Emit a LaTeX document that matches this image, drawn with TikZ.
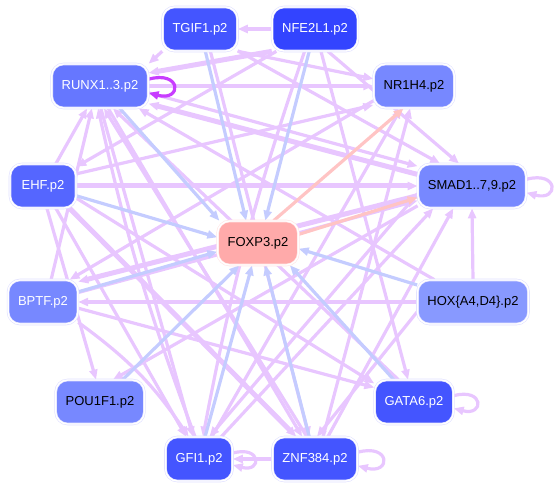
\documentclass[tikz,border=0pt]{standalone}
\usepackage{fontspec}
\setmainfont{Liberation Sans}
\usetikzlibrary{arrows.meta,backgrounds}

\definecolor{regpurple}{RGB}{232,198,255}
\definecolor{regblue}{RGB}{196,204,255}
\definecolor{regpink}{RGB}{255,196,196}
\definecolor{loopmag}{RGB}{200,60,255}
\definecolor{geneA}{RGB}{51,68,255}
\definecolor{geneB}{RGB}{68,85,255}
\definecolor{geneC}{RGB}{85,102,255}
\definecolor{geneD}{RGB}{102,119,255}
\definecolor{geneE}{RGB}{119,136,255}
\definecolor{geneF}{RGB}{136,153,255}
\definecolor{foxfill}{RGB}{255,170,170}

\tikzset{
  gene/.style={rectangle, rounded corners=12pt, minimum height=44pt, minimum width=66pt,
    inner xsep=10pt, draw=blue!12, double=white, double distance=1.4pt, line width=0.6pt,
    font=\fontsize{13}{15}\selectfont, text=white},
  darktext/.style={text=black},
  reg/.style={draw=regpurple, line width=3.2pt, -{Triangle[length=10pt,width=8pt]}},
  regthick/.style={reg, line width=5pt},
  tofox/.style={reg, draw=regblue},
  fromfox/.style={reg, draw=regpink},
  selfloop/.style={reg, looseness=6.5},
}

\begin{document}
\begin{tikzpicture}[x=1pt, y=-1pt]
    \useasboundingbox (0,0) rectangle (557,489);

    % Genes
    \node[gene, fill=geneB] (tgif) at (200,29) {TGIF1.p2};
    \node[gene, fill=geneA] (nfe) at (315,29) {NFE2L1.p2};
    \node[gene, fill=geneD] (runx) at (100,86) {RUNX1..3.p2};
    \node[gene, fill=geneE, darktext] (nr) at (414,86) {NR1H4.p2};
    \node[gene, fill=geneC] (ehf) at (43,186) {EHF.p2};
    \node[gene, fill=geneE, darktext] (smad) at (472,186) {SMAD1..7,9.p2};
    \node[gene, fill=foxfill, darktext, draw=red!10] (foxp) at (258,243) {FOXP3.p2};
    \node[gene, fill=geneE] (bptf) at (43,302) {BPTF.p2};
    \node[gene, fill=geneF, darktext] (hox) at (473,302) {HOX\{A4,D4\}.p2};
    \node[gene, fill=geneE, darktext] (pou) at (100,402) {POU1F1.p2};
    \node[gene, fill=geneB] (gata) at (414,402) {GATA6.p2};
    \node[gene, fill=geneB] (gfi) at (199,459) {GFI1.p2};
    \node[gene, fill=geneB] (znf) at (315,459) {ZNF384.p2};

    \begin{scope}[on background layer]
    % Regulation among the top genes
    \draw[reg] (nfe) -- (tgif);
    \draw[reg] (tgif.south west) -- (runx.north east);
    \draw[regthick] (nfe.south west) -- (runx.15);
    \draw[reg] (runx.east) -- (nr.west);
    \draw[reg] (tgif.south east) -- (nr.170);
    \draw[reg] (nfe.-60) -- (smad.120);
    \draw[reg] (tgif.-30) -- (smad.145);
    \draw[reg] (nfe.-150) -- (ehf.30);

    % Towards RUNX1..3
    \draw[reg] (ehf.60) -- (runx.-120);
    \draw[reg] (bptf.70) -- (runx.-110);
    \draw[reg] (gfi.100) to[bend left=4] (runx.-95);
    \draw[reg] (znf.110) -- (runx.-80);
    \draw[reg] (gata.125) -- (runx.-60);
    \draw[reg] (hox.150) -- (runx.-30);
    \draw[regthick] (smad.168) -- (runx.-20);
    \draw[reg] (runx.-8) -- (smad.160);

    % Left side genes
    \draw[regthick] (ehf.east) -- (smad.west);
    \draw[reg] (ehf.20) -- (nr.-155);
    \draw[reg] (nr.-160) -- (bptf.40);
    \draw[regthick] (smad.-170) -- (bptf.30);
    \draw[reg] (bptf.15) -- (smad.-165);
    \draw[reg] (ehf.-80) -- (pou.100);
    \draw[reg] (smad.-160) -- (pou.60);
    \draw[reg] (hox.west) -- (bptf.east);

    % Towards GFI1 and ZNF384
    \draw[reg] (ehf.-60) -- (gfi.120);
    \draw[regthick] (ehf.-40) -- (znf.130);
    \draw[reg] (ehf.-20) -- (gata.155);
    \draw[reg] (bptf.-30) to[bend left=10] (gfi.115);
    \draw[reg] (bptf.-10) -- (gata.160);
    \draw[reg] (runx.-88) -- (gfi.105);
    \draw[reg] (runx.-70) -- (znf.120);
    \draw[reg] (nfe.-115) to[bend right=4] (gfi.80);
    \draw[reg] (tgif.-65) -- (znf.105);
    \draw[reg] (nfe.-75) -- (gata.105);
    \draw[reg] (smad.-172) -- (gfi.65);
    \draw[reg] (hox.-170) -- (znf.85);
    \draw[reg] (znf.west) -- (gfi.east);

    % From GFI1 and ZNF384 upwards
    \draw[reg] (gfi.60) -- (nr.-120);
    \draw[reg] (znf.70) -- (nr.-100);
    \draw[reg] (gfi.45) -- (smad.-150);
    \draw[reg] (znf.60) -- (smad.-130);
    \draw[reg] (hox.north) -- (smad.south);

    % Regulators of FOXP3
    \foreach \g/\a in {tgif/118, nfe/72, runx/150, ehf/172, bptf/-168, pou/-130,
                       gfi/-105, znf/-72, gata/-35, hox/-8}
        \draw[tofox] (\g) -- (foxp.\a);
    \draw[fromfox] (foxp.55) -- (nr.-115);
    \draw[fromfox] (foxp.12) -- (smad.-168);

    % Self loops
    \draw[selfloop, draw=loopmag] (runx.8) to[out=15, in=-15] (runx.-8);
    \draw[selfloop] (smad.7) to[out=15, in=-15] (smad.-7);
    \draw[selfloop] (gata.9) to[out=15, in=-15] (gata.-9);
    \draw[selfloop] (znf.9) to[out=15, in=-15] (znf.-9);
    \draw[selfloop] (gfi.10) to[out=15, in=-15] (gfi.-10);
    \end{scope}
\end{tikzpicture}
\end{document}
